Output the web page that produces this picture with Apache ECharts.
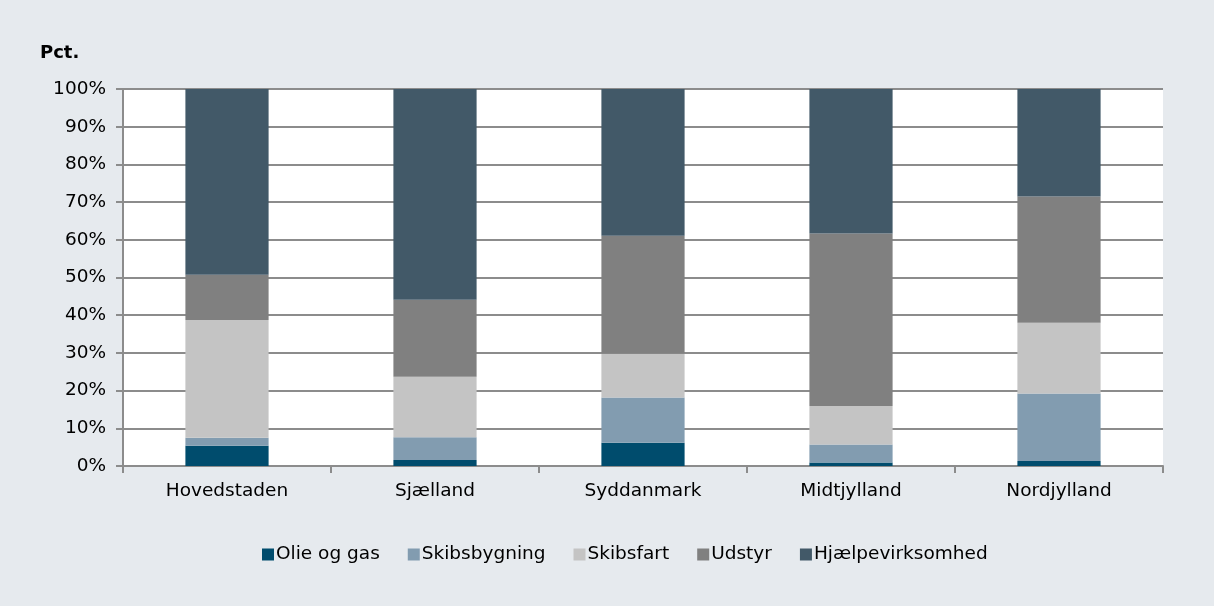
<!DOCTYPE html>
<html>
<head>
<meta charset="utf-8">
<script src="https://cdn.jsdelivr.net/npm/echarts@6/dist/echarts.min.js"></script>
<style>
    html, body { margin: 0; padding: 0; background: #e6eaee; }
    #chart { width: 1214px; height: 606px; }
</style>
</head>
<body>
<div id="chart"></div>
<script>
    let regions = ['Hovedstaden', 'Sjælland', 'Syddanmark', 'Midtjylland', 'Nordjylland'];
    let olieOgGas = [5.4, 1.6, 6.2, 0.9, 1.3];
    let skibsbygning = [2.1, 6.0, 12.0, 4.8, 17.9];
    let skibsfart = [31.2, 16.1, 11.6, 10.2, 18.8];
    let udstyr = [12.0, 20.4, 31.3, 45.8, 33.5];
    let hjaelpevirksomhed = [49.3, 55.9, 38.9, 38.3, 28.5];

    let myChart = echarts.init(document.getElementById('chart'));

    function bar(name, data, color) {
        return {
            name: name,
            type: 'bar',
            stack: 'total',
            barWidth: '40%',
            itemStyle: {color: color},
            data: data
        };
    }

    let option = {
        backgroundColor: '#e6eaee',
        textStyle: {fontFamily: 'DejaVu Sans', color: '#000'},
        title: {
            text: 'Pct.',
            left: 35,
            top: 39,
            textStyle: {fontSize: 18, fontWeight: 'bold', color: '#000', fontFamily: 'DejaVu Sans'}
        },
        legend: {
            bottom: 37,
            left: 257,
            itemWidth: 12,
            itemHeight: 12,
            itemGap: 28,
            icon: 'rect',
            textStyle: {fontSize: 18.5, color: '#000', padding: [0, 0, 0, -3]},
            data: ['Olie og gas', 'Skibsbygning', 'Skibsfart', 'Udstyr', 'Hjælpevirksomhed']
        },
        grid: {
            left: 123,
            right: 51,
            top: 89,
            bottom: 140,
            backgroundColor: '#fff',
            show: true,
            borderWidth: 0
        },
        xAxis: {
            type: 'category',
            data: regions,
            axisLine: {lineStyle: {color: '#8c8c8c', width: 2}},
            axisTick: {show: true, length: 7, lineStyle: {color: '#8c8c8c', width: 2}},
            axisLabel: {fontSize: 18.5, color: '#000', margin: 16}
        },
        yAxis: {
            type: 'value',
            min: 0,
            max: 100,
            interval: 10,
            axisLine: {show: true, lineStyle: {color: '#8c8c8c', width: 2}},
            axisTick: {show: true, length: 7, lineStyle: {color: '#8c8c8c', width: 2}},
            axisLabel: {fontSize: 18.5, color: '#000', margin: 17, formatter: '{value}%'},
            splitLine: {lineStyle: {color: '#8c8c8c', width: 2}}
        },
        series: [
            bar('Olie og gas', olieOgGas, '#004c6d'),
            bar('Skibsbygning', skibsbygning, '#829cb0'),
            bar('Skibsfart', skibsfart, '#c4c4c4'),
            bar('Udstyr', udstyr, '#808080'),
            bar('Hjælpevirksomhed', hjaelpevirksomhed, '#425968')
        ]
    };

    myChart.setOption(option);
</script>
</body>
</html>
